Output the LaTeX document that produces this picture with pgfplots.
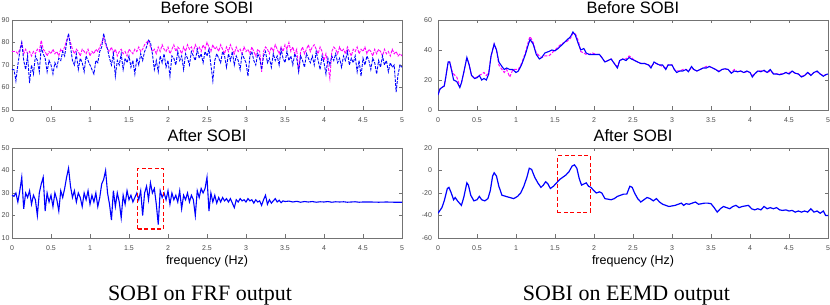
\documentclass[border=0pt]{standalone}
\usepackage{fontspec}
\setmainfont{Liberation Serif}
\newfontfamily\hel{Liberation Sans}
\usepackage{pgfplots}
\pgfplotsset{compat=1.18}
\definecolor{axgray}{rgb}{0.45,0.45,0.45}
\definecolor{mblue}{rgb}{0,0,1}
\definecolor{mmag}{rgb}{1,0,1}
\definecolor{mred}{rgb}{1,0,0}
\pgfplotsset{
  every axis title shift=0pt,
  mstyle/.style={
    scale only axis, width=390pt, height=90pt, anchor=south west,
    xmin=0, xmax=5, xtick={0,0.5,...,5}, xticklabels={0,0.5,1,1.5,2,2.5,3,3.5,4,4.5,5},
    axis line style={axgray, line width=0.6pt},
    tick style={axgray, line width=0.5pt},
    tick align=inside, major tick length=3.5pt,
    ticklabel style={font=\hel\fontsize{7}{8}\selectfont, text=black!70},
    /pgf/number format/assume math mode=true,
    xticklabel style={yshift=-4pt},
    yticklabel style={xshift=-2.5pt},
    title style={at={(0.5,1)}, anchor=base, yshift=6.5pt, font=\hel\fontsize{16.5}{18}\selectfont, inner sep=0pt},
    clip=true,
  },
  lstyle/.style={yticklabel style={xshift=1.2pt, inner sep=1pt}},
}
\begin{document}
\begin{tikzpicture}
\useasboundingbox (0,0) rectangle (830pt,305pt);
% ---------------- top left
\begin{axis}[mstyle, lstyle, at={(12pt,195pt)}, ymin=50, ymax=90, ytick={50,60,70,80,90}, title={Before SOBI}]
\addplot[mmag, line width=0.9pt, dash pattern=on 3pt off 1.2pt] coordinates {
(0,76)(0.025,76)(0.05,76)(0.075,75)(0.1,77)(0.125,80)(0.15,75)(0.175,77)(0.2,75)(0.225,76)(0.25,74)(0.275,76)(0.3,75)(0.325,77)(0.35,76)(0.375,81)(0.4,77)(0.425,76)(0.45,74)(0.475,76)(0.5,75)(0.525,77)(0.55,75)(0.575,76)(0.6,74)(0.625,77)(0.65,76)(0.675,78)(0.7,81)(0.725,83)(0.75,80)(0.775,77)(0.8,75)(0.825,77)(0.85,76)(0.875,74)(0.9,77)(0.925,76)(0.95,75)(0.975,77)(1.0,74)(1.025,76)(1.05,75)(1.075,77)(1.1,76)(1.125,78)(1.15,80)(1.175,82)(1.2,79)(1.225,77)(1.25,76)(1.275,78)(1.3,75)(1.325,77)(1.35,74)(1.375,76)(1.4,77)(1.425,75)(1.45,76)(1.475,74)(1.5,77)(1.525,76)(1.55,75)(1.575,77)(1.6,76)(1.625,78)(1.65,76)(1.675,77)(1.7,79)(1.725,80)(1.75,81)(1.775,78)(1.8,76)(1.825,77)(1.85,75)(1.875,78)(1.9,76)(1.925,79)(1.95,77)(1.975,76)(2.0,78)(2.025,75)(2.05,77)(2.075,79)(2.1,76)(2.125,78)(2.15,77)(2.175,75)(2.2,78)(2.225,76)(2.25,79)(2.275,77)(2.3,78)(2.325,76)(2.35,79)(2.375,77)(2.4,78)(2.425,76)(2.45,79)(2.475,77)(2.5,80)(2.525,78)(2.55,76)(2.575,79)(2.6,77)(2.625,78)(2.65,76)(2.675,79)(2.7,77)(2.725,75)(2.75,78)(2.775,76)(2.8,79)(2.825,77)(2.85,75)(2.875,78)(2.9,76)(2.925,77)(2.95,75)(2.975,78)(3.0,76)(3.025,77)(3.05,75)(3.075,78)(3.1,76)(3.125,74)(3.15,77)(3.175,76)(3.2,67)(3.225,76)(3.25,78)(3.275,77)(3.3,75)(3.325,78)(3.35,76)(3.375,79)(3.4,77)(3.425,75)(3.45,78)(3.475,76)(3.5,79)(3.525,77)(3.55,80)(3.575,76)(3.6,78)(3.625,75)(3.65,77)(3.675,67)(3.7,76)(3.725,78)(3.75,75)(3.775,77)(3.8,79)(3.825,76)(3.85,78)(3.875,79)(3.9,77)(3.925,75)(3.95,78)(3.975,76)(4.0,72)(4.025,75)(4.05,70)(4.075,64)(4.1,76)(4.125,78)(4.15,77)(4.175,75)(4.2,78)(4.225,76)(4.25,77)(4.275,75)(4.3,78)(4.325,76)(4.35,74)(4.375,77)(4.4,76)(4.425,78)(4.45,75)(4.475,77)(4.5,76)(4.525,78)(4.55,75)(4.575,77)(4.6,76)(4.625,74)(4.65,77)(4.675,75)(4.7,77)(4.725,76)(4.75,74)(4.775,77)(4.8,75)(4.825,76)(4.85,74)(4.875,77)(4.9,75)(4.925,76)(4.95,74)(4.975,75)(5.0,74)
};
\addplot[mblue, line width=0.9pt, dash pattern=on 3pt off 1.2pt] coordinates {
(0,68)(0.025,68)(0.05,63)(0.075,70)(0.1,76)(0.125,80)(0.15,72)(0.175,68)(0.2,74)(0.225,62)(0.25,70)(0.275,66)(0.3,74)(0.325,72)(0.35,67)(0.375,78)(0.4,75)(0.425,73)(0.45,67)(0.475,72)(0.5,70)(0.525,66)(0.55,71)(0.575,69)(0.6,73)(0.625,72)(0.65,76)(0.675,74)(0.7,80)(0.725,84)(0.75,78)(0.775,72)(0.8,70)(0.825,75)(0.85,68)(0.875,73)(0.9,71)(0.925,67)(0.95,74)(0.975,72)(1.0,70)(1.025,68)(1.05,66)(1.075,72)(1.1,71)(1.125,76)(1.15,78)(1.175,84)(1.2,80)(1.225,77)(1.25,73)(1.275,70)(1.3,75)(1.325,65)(1.35,72)(1.375,70)(1.4,75)(1.425,68)(1.45,73)(1.475,71)(1.5,74)(1.525,69)(1.55,72)(1.575,66)(1.6,73)(1.625,70)(1.65,75)(1.675,72)(1.7,76)(1.725,78)(1.75,81)(1.775,80)(1.8,75)(1.825,68)(1.85,72)(1.875,67)(1.9,74)(1.925,71)(1.95,75)(1.975,69)(2.0,72)(2.025,65)(2.05,74)(2.075,73)(2.1,70)(2.125,76)(2.15,72)(2.175,74)(2.2,68)(2.225,75)(2.25,73)(2.275,70)(2.3,76)(2.325,74)(2.35,72)(2.375,77)(2.4,73)(2.425,75)(2.45,71)(2.475,76)(2.5,74)(2.525,77)(2.55,70)(2.575,63)(2.6,72)(2.625,75)(2.65,73)(2.675,71)(2.7,76)(2.725,74)(2.75,69)(2.775,75)(2.8,72)(2.825,76)(2.85,70)(2.875,74)(2.9,72)(2.925,68)(2.95,75)(2.975,73)(3.0,71)(3.025,65)(3.05,74)(3.075,76)(3.1,72)(3.125,70)(3.15,75)(3.175,73)(3.2,68)(3.225,74)(3.25,76)(3.275,71)(3.3,73)(3.325,69)(3.35,75)(3.375,72)(3.4,74)(3.425,70)(3.45,77)(3.475,73)(3.5,71)(3.525,76)(3.55,72)(3.575,74)(3.6,70)(3.625,75)(3.65,73)(3.675,67)(3.7,74)(3.725,72)(3.75,69)(3.775,75)(3.8,73)(3.825,71)(3.85,74)(3.875,70)(3.9,76)(3.925,72)(3.95,68)(3.975,74)(4.0,71)(4.025,66)(4.05,73)(4.075,70)(4.1,74)(4.125,72)(4.15,75)(4.175,71)(4.2,73)(4.225,69)(4.25,74)(4.275,72)(4.3,76)(4.325,70)(4.35,73)(4.375,71)(4.4,74)(4.425,67)(4.45,72)(4.475,65)(4.5,73)(4.525,70)(4.55,74)(4.575,72)(4.6,68)(4.625,73)(4.65,71)(4.675,66)(4.7,72)(4.725,69)(4.75,74)(4.775,70)(4.8,72)(4.825,67)(4.85,71)(4.875,69)(4.9,70)(4.925,58)(4.95,66)(4.975,70)(5.0,69)
};
\end{axis}
% ---------------- bottom left
\begin{axis}[mstyle, lstyle, at={(12pt,67pt)}, ymin=10, ymax=50, ytick={10,20,30,40,50}, title={After SOBI}]
\addplot[mblue, line width=1.1pt] coordinates {
(0,29)(0.025,28.5)(0.05,30)(0.075,26)(0.1,31)(0.125,37)(0.15,23)(0.175,30)(0.2,28)(0.225,31)(0.25,25)(0.275,29)(0.3,27)(0.325,20)(0.35,30)(0.375,34)(0.4,37)(0.425,22)(0.45,30)(0.475,26)(0.5,29)(0.525,24)(0.55,30)(0.575,27)(0.6,22)(0.625,31)(0.65,28)(0.675,32)(0.7,37)(0.725,41)(0.75,33)(0.775,28)(0.8,31)(0.825,26)(0.85,30)(0.875,28)(0.9,24)(0.925,30)(0.95,27)(0.975,31)(1.0,25)(1.025,29)(1.05,26)(1.075,30)(1.1,24)(1.125,28)(1.15,34)(1.175,36)(1.2,40)(1.225,30)(1.25,25)(1.275,18)(1.3,31)(1.325,24)(1.35,30)(1.375,26)(1.4,19)(1.425,29)(1.45,25)(1.475,31)(1.5,27)(1.525,29)(1.55,26)(1.575,28)(1.6,30)(1.625,27)(1.65,31)(1.675,20)(1.7,30)(1.725,33)(1.75,27)(1.775,34.5)(1.8,30)(1.825,32)(1.85,25)(1.875,16)(1.9,31)(1.925,28)(1.95,30)(1.975,27)(2.0,31)(2.025,25)(2.05,30)(2.075,27)(2.1,29)(2.125,26)(2.15,31)(2.175,23)(2.2,29)(2.225,27)(2.25,30)(2.275,26)(2.3,29)(2.325,27)(2.35,20)(2.375,31)(2.4,28)(2.425,32)(2.45,30)(2.475,32)(2.5,37)(2.525,22)(2.55,30)(2.575,26)(2.6,29)(2.625,25.5)(2.65,28)(2.675,26)(2.7,28)(2.725,26.5)(2.75,27.5)(2.775,26)(2.8,27.5)(2.825,25.5)(2.85,23.5)(2.875,27)(2.9,26)(2.925,27.5)(2.95,26.5)(2.975,27)(3.0,26)(3.025,27.5)(3.05,26.5)(3.075,27)(3.1,25.5)(3.125,27)(3.15,26)(3.175,26.5)(3.2,24.5)(3.225,27)(3.25,29)(3.275,25)(3.3,27)(3.325,25.5)(3.35,26.5)(3.375,27.5)(3.4,26)(3.425,26.8)(3.45,25.7)(3.475,26.5)(3.5,26.2)(3.55,26.4)(3.6,26.0)(3.65,26.3)(3.7,25.9)(3.75,26.2)(3.8,26.0)(3.85,26.2)(3.9,25.9)(3.95,26.1)(4.0,26.0)(4.05,26.2)(4.1,25.9)(4.15,26.1)(4.2,26.0)(4.25,26.1)(4.3,25.9)(4.35,26.0)(4.4,26.1)(4.45,25.9)(4.5,26.0)(4.6,26.0)(4.7,25.9)(4.8,26.0)(4.9,25.9)(5.0,25.9)
};
\addplot[mred, line width=1.1pt, dash pattern=on 4pt off 2.5pt] coordinates {(1.61,14)(1.94,14)(1.94,41)(1.61,41)(1.61,14)};
\end{axis}
% ---------------- top right
\begin{axis}[mstyle, at={(438pt,195pt)}, ymin=0, ymax=60, ytick={0,20,40,60}, title={Before SOBI}]
\addplot[mmag, line width=1pt, dash pattern=on 3pt off 1.5pt] coordinates {
(0,10)(0.025,14)(0.05,15)(0.08,16)(0.1,22)(0.13,32)(0.15,32)(0.18,26)(0.2,24)(0.24,22)(0.28,16)(0.3,18)(0.33,25)(0.37,35)(0.4,30)(0.43,23)(0.47,21)(0.5,22)(0.53,23)(0.56,24)(0.59,25)(0.62,23)(0.65,25)(0.68,36)(0.72,44)(0.75,40)(0.78,30)(0.82,27)(0.85,25)(0.88,27)(0.92,22)(0.96,27)(1.0,27)(1.03,27)(1.07,31)(1.12,38)(1.16,46)(1.18,49)(1.22,45)(1.26,38)(1.3,36)(1.33,35)(1.37,36)(1.42,36)(1.46,38)(1.5,40)(1.54,42)(1.58,44)(1.62,45)(1.66,46)(1.7,48)(1.73,51)(1.76,51)(1.8,46)(1.83,39)(1.87,38)(1.9,37)(1.94,37)(1.98,38)(2.03,37)(2.07,37)(2.1,35)(2.14,32)(2.18,33)(2.22,34)(2.26,31)(2.3,29)(2.33,33)(2.37,34)(2.41,34)(2.45,36)(2.48,35)(2.52,33)(2.56,32)(2.6,31)(2.65,31)(2.7,30)(2.73,29)(2.77,31)(2.8,31)(2.84,30)(2.88,29)(2.92,28)(2.95,30)(3.0,30)(3.03,27)(3.06,26)(3.1,26)(3.14,27)(3.18,27)(3.21,26)(3.25,28)(3.28,27)(3.32,26)(3.36,27)(3.4,28)(3.44,29)(3.48,29)(3.52,28)(3.56,27)(3.6,26)(3.64,27)(3.68,27)(3.72,27)(3.76,25)(3.8,27)(3.84,25.5)(3.88,26)(3.92,25)(3.96,25.5)(4.0,25)(4.03,23)(4.06,24)(4.1,26)(4.14,26)(4.18,26)(4.22,25)(4.26,26)(4.3,24.5)(4.34,24)(4.38,24)(4.42,24)(4.46,25)(4.5,25)(4.54,25.5)(4.58,24.5)(4.62,24)(4.66,22.5)(4.7,23)(4.74,25)(4.78,23.5)(4.82,25)(4.86,25.5)(4.9,24)(4.94,23)(4.97,23.5)(5.0,24)
};
\addplot[mblue, line width=1.1pt] coordinates {
(0,10)(0.025,14)(0.05,15)(0.08,16)(0.1,22)(0.13,32)(0.15,32)(0.18,25)(0.2,20)(0.24,19)(0.28,15)(0.3,18)(0.33,25)(0.37,35)(0.4,30)(0.43,23)(0.47,21)(0.5,21.5)(0.53,23)(0.56,20)(0.59,21)(0.62,20)(0.65,24)(0.68,36)(0.72,44)(0.75,40)(0.78,32)(0.82,29)(0.85,27)(0.88,28)(0.92,27)(0.96,27)(1.0,25)(1.03,26)(1.07,30)(1.12,37)(1.16,44)(1.18,47)(1.22,44)(1.26,37)(1.3,34)(1.33,35)(1.37,38)(1.42,39)(1.46,40)(1.5,39.5)(1.54,41)(1.58,43)(1.62,45)(1.66,47)(1.7,49)(1.73,52)(1.76,50)(1.8,44)(1.83,40)(1.87,41)(1.9,38)(1.94,37)(1.98,37)(2.03,37)(2.07,37)(2.1,35)(2.14,32)(2.18,33)(2.22,34)(2.26,31)(2.3,28)(2.33,33)(2.37,34)(2.41,33)(2.45,35)(2.48,34)(2.52,33)(2.56,32)(2.6,31)(2.65,31)(2.7,30)(2.73,28)(2.77,32)(2.8,31)(2.84,30)(2.88,30)(2.92,27)(2.95,30)(3.0,30)(3.03,27)(3.06,25)(3.1,26)(3.14,26)(3.18,27)(3.21,25.5)(3.25,29)(3.28,27)(3.32,26)(3.36,27)(3.4,28)(3.44,28)(3.48,29)(3.52,28)(3.56,27)(3.6,25.5)(3.64,27)(3.68,27.5)(3.72,27)(3.76,24.5)(3.8,26)(3.84,25.5)(3.88,26)(3.92,25)(3.96,26)(4.0,25)(4.03,22)(4.06,24)(4.1,26)(4.14,25.5)(4.18,26.5)(4.22,25)(4.26,27)(4.3,24)(4.34,24)(4.38,23.5)(4.42,24)(4.46,25)(4.5,24)(4.54,26)(4.58,24.5)(4.62,24)(4.66,22)(4.7,23)(4.74,25)(4.78,23)(4.82,25)(4.86,26)(4.9,24)(4.94,22.5)(4.97,23.5)(5.0,24)
};
\end{axis}
% ---------------- bottom right
\begin{axis}[mstyle, at={(438pt,67pt)}, ymin=-60, ymax=20, ytick={-60,-40,-20,0,20}, title={After SOBI}]
\addplot[mblue, line width=1.2pt] coordinates {
(0,-38)(0.05,-33)(0.08,-27)(0.12,-16)(0.14,-15)(0.17,-20)(0.2,-26)(0.22,-24)(0.25,-27)(0.3,-31)(0.33,-24)(0.37,-11)(0.39,-13)(0.42,-22)(0.46,-27)(0.5,-26)(0.53,-23)(0.56,-26)(0.6,-27)(0.64,-25)(0.67,-18)(0.7,-5)(0.72,-2)(0.75,-5)(0.78,-14)(0.82,-22)(0.87,-23)(0.92,-24)(0.97,-25)(1.02,-23)(1.06,-20)(1.1,-14)(1.14,-6)(1.17,2)(1.2,1)(1.24,-6)(1.28,-11)(1.32,-15)(1.35,-13)(1.38,-10)(1.41,-12)(1.44,-16)(1.48,-14)(1.52,-11)(1.56,-8)(1.6,-6)(1.64,-4)(1.68,-1)(1.72,4)(1.75,5)(1.78,2)(1.81,-7)(1.84,-13)(1.87,-12)(1.9,-11)(1.93,-14)(1.96,-15)(2.0,-18)(2.03,-20)(2.07,-19)(2.1,-20)(2.14,-25)(2.18,-25.5)(2.22,-26)(2.26,-25)(2.3,-23)(2.34,-22)(2.38,-21)(2.42,-21)(2.46,-14)(2.49,-15)(2.52,-20)(2.56,-25)(2.6,-28)(2.64,-26)(2.68,-24)(2.72,-25)(2.76,-27)(2.8,-25)(2.84,-28)(2.88,-30)(2.92,-31)(2.96,-32)(3.0,-31.5)(3.04,-31)(3.08,-30)(3.12,-29)(3.15,-31)(3.18,-29.5)(3.22,-30)(3.26,-29)(3.3,-28)(3.34,-30)(3.38,-29.5)(3.42,-29)(3.46,-29)(3.5,-29.5)(3.54,-33)(3.58,-37)(3.62,-34)(3.66,-32)(3.7,-33)(3.74,-34)(3.78,-32)(3.82,-31)(3.86,-33)(3.9,-32)(3.94,-31.5)(3.98,-31)(4.02,-34)(4.06,-35)(4.1,-34)(4.14,-35)(4.18,-32)(4.22,-34)(4.26,-33)(4.3,-34)(4.34,-33)(4.38,-35)(4.42,-35.5)(4.46,-35)(4.5,-36)(4.54,-35.5)(4.58,-37)(4.62,-36)(4.66,-37)(4.7,-36)(4.74,-37)(4.78,-34)(4.82,-37)(4.86,-36)(4.9,-38)(4.94,-36)(4.97,-40)(5.0,-40)
};
\addplot[mred, line width=1.1pt, dash pattern=on 4pt off 2.5pt] coordinates {(1.53,-37)(1.95,-37)(1.95,13)(1.53,13)(1.53,-37)};
\end{axis}
% labels
\node[anchor=base, font=\hel\fontsize{12.5}{14}\selectfont, inner sep=0pt] at (207pt,40pt) {frequency (Hz)};
\node[anchor=base, font=\hel\fontsize{12.5}{14}\selectfont, inner sep=0pt] at (633pt,40pt) {frequency (Hz)};
\node[anchor=base, font=\fontsize{22}{24}\selectfont, inner sep=0pt] at (200pt,4.5pt) {SOBI on FRF output};
\node[anchor=base, font=\fontsize{22}{24}\selectfont, inner sep=0pt] at (626.5pt,4.5pt) {SOBI on EEMD output};
\end{tikzpicture}
\end{document}
